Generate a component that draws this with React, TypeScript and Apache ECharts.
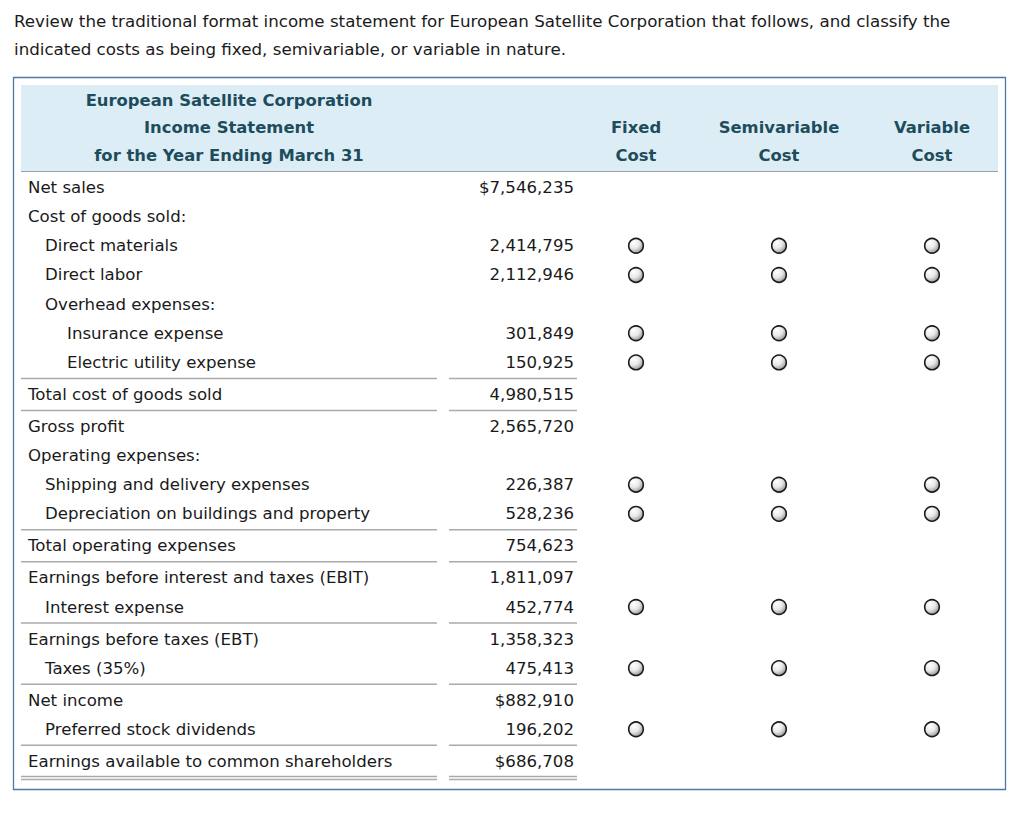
import React, { useEffect, useRef } from "react";
import * as echarts from "echarts";

const introLines = [
  "Review the traditional format income statement for European Satellite Corporation that follows, and classify the",
  "indicated costs as being fixed, semivariable, or variable in nature.",
];
const titleLines = ["European Satellite Corporation", "Income Statement", "for the Year Ending March 31"];
const costHeaders = [
  ["Fixed", "Cost"],
  ["Semivariable", "Cost"],
  ["Variable", "Cost"],
];
const rowLabels = [
  "Net sales",
  "Cost of goods sold:",
  "Direct materials",
  "Direct labor",
  "Overhead expenses:",
  "Insurance expense",
  "Electric utility expense",
  "Total cost of goods sold",
  "Gross profit",
  "Operating expenses:",
  "Shipping and delivery expenses",
  "Depreciation on buildings and property",
  "Total operating expenses",
  "Earnings before interest and taxes (EBIT)",
  "Interest expense",
  "Earnings before taxes (EBT)",
  "Taxes (35%)",
  "Net income",
  "Preferred stock dividends",
  "Earnings available to common shareholders",
];
const rowIndent = [0, 0, 1, 1, 1, 2, 2, 0, 0, 0, 1, 1, 0, 0, 1, 0, 1, 0, 1, 0];
const rowValues: (number | null)[] = [
  7546235, null, 2414795, 2112946, null, 301849, 150925, 4980515, 2565720, null,
  226387, 528236, 754623, 1811097, 452774, 1358323, 475413, 882910, 196202, 686708,
];
const rowDollar = [1, 0, 0, 0, 0, 0, 0, 0, 0, 0, 0, 0, 0, 0, 0, 0, 0, 1, 0, 1];
const rowRadio = [0, 0, 1, 1, 0, 1, 1, 0, 0, 0, 1, 1, 0, 0, 1, 0, 1, 0, 1, 0];
const rowLineAbove = [0, 0, 0, 0, 0, 0, 0, 1, 1, 0, 0, 0, 1, 1, 0, 1, 0, 1, 0, 1];

const FONT = "DejaVu Sans, Verdana, sans-serif";

function fmt(v: number, dollar: boolean) {
  const s = v.toString().replace(/\B(?=(\d{3})+(?!\d))/g, ",");
  return (dollar ? "$" : "") + s;
}

export default function App() {
  const ref = useRef<HTMLDivElement>(null);
  useEffect(() => {
    if (!ref.current) return;
    const chart = echarts.init(ref.current, null, { renderer: "svg" });
    const els: any[] = [];
    const txt = (x: number, y: number, t: string, o: any = {}) => {
      els.push({
        type: "text",
        x,
        y,
        silent: true,
        style: {
          text: t,
          fill: o.fill || "#1a1a1a",
          font: o.font || `16.6px ${FONT}`,
          textAlign: o.align || "left",
          align: o.align || "left",
          textVerticalAlign: "middle",
          verticalAlign: "middle",
        },
      });
    };
    const hline = (x1: number, x2: number, y: number, color = "#aaa", w = 1.5) => {
      els.push({
        type: "line",
        silent: true,
        shape: { x1, y1: y, x2, y2: y },
        style: { stroke: color, lineWidth: w },
      });
    };
    // intro text
    introLines.forEach((t, i) => txt(14, 21 + i * 28, t, { font: `16.7px ${FONT}` }));
    // outer box
    els.push({
      type: "rect",
      silent: true,
      shape: { x: 13.5, y: 77.5, width: 992, height: 712 },
      style: { fill: "#fff", stroke: "#4b7aa6", lineWidth: 1.3 },
    });
    // header bg
    els.push({
      type: "rect",
      silent: true,
      shape: { x: 21, y: 85, width: 977, height: 86 },
      style: { fill: "#ddedf6" },
    });
    hline(21, 998, 171.5, "#9aa3a8", 1.2);
    const hdrColor = "#1d4d5c";
    const hdrFont = `bold 16.4px ${FONT}`;
    titleLines.forEach((t, i) => txt(229, 100 + i * 27.5, t, { font: hdrFont, fill: hdrColor, align: "center" }));
    const colX = [636, 779, 932];
    costHeaders.forEach((h, j) =>
      h.forEach((t, i) => txt(colX[j], 127 + i * 28, t, { font: hdrFont, fill: hdrColor, align: "center" }))
    );
    // rows
    const indentX = [28, 45, 67];
    let y = 187.5;
    rowLabels.forEach((label, i) => {
      if (i > 0) y += rowLineAbove[i] ? 32 : 29.15;
      if (rowLineAbove[i]) {
        hline(21, 437, y - 16);
        hline(449, 577, y - 16);
      }
      txt(indentX[rowIndent[i]], y, label);
      const v = rowValues[i];
      if (v !== null) txt(574, y, fmt(v, !!rowDollar[i]), { align: "right" });
      if (rowRadio[i]) {
        colX.forEach((cx) => {
          els.push({
            type: "circle",
            silent: true,
            shape: { cx, cy: y, r: 7.3 },
            style: {
              fill: new echarts.graphic.RadialGradient(0.35, 0.3, 0.85, [
                { offset: 0, color: "#ffffff" },
                { offset: 0.45, color: "#e8e8e8" },
                { offset: 1, color: "#7c7c7c" },
              ]),
              stroke: "#1c1c1c",
              lineWidth: 1.6,
            },
          });
        });
      }
    });
    // double underline
    hline(21, 437, 776.5);
    hline(21, 437, 779.5);
    hline(449, 577, 776.5);
    hline(449, 577, 779.5);

    chart.setOption({
      animation: false,
      graphic: { elements: els },
    });
    return () => chart.dispose();
  }, []);
  return (
    <div
      ref={ref}
      style={{ position: "fixed", left: 0, top: 0, width: 1024, height: 814, background: "#fff" }}
    />
  );
}
